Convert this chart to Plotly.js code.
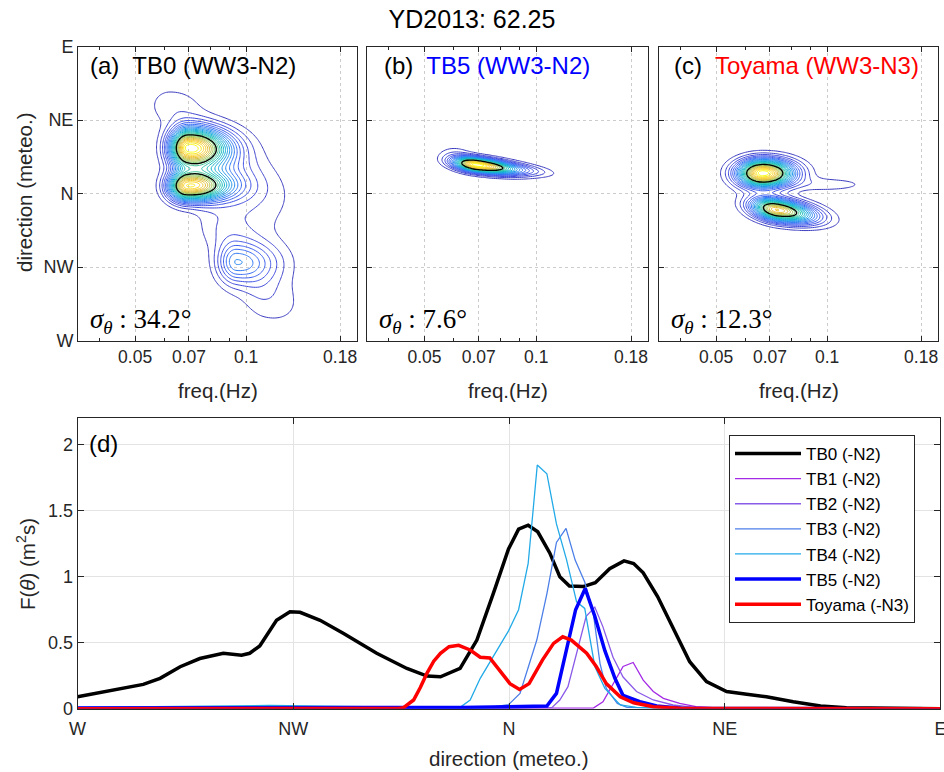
<!DOCTYPE html>
<html>
<head>
<meta charset="utf-8">
<script src="https://cdn.plot.ly/plotly-3.0.1.min.js"></script>
<style>
  html, body { margin: 0; padding: 0; background: #fff; }
  #chart { width: 944px; height: 772px; }
</style>
</head>
<body>
<div id="chart"></div>
<script>
// ---------- directional spectra F(theta), direction in degrees (W = 270 ... E = 450) ----------
const tb0Dir = [270, 276.8, 283.7, 287.2, 291.4, 295.5, 300.4, 304.2, 305.9, 308, 311.5, 314.3, 316.4, 320.6, 325.5, 332.4, 338.7, 342.9, 345.7, 349.8, 353.3, 356.7, 359.9, 362, 364, 366, 368.5, 370.6, 372.6, 375.5, 378, 381, 384, 386, 388, 391, 394.3, 397.7, 401.2, 405.4, 409.6, 413.7, 419.3, 425, 430.4, 440, 450];
const tb0Val = [0.09, 0.136, 0.184, 0.23, 0.318, 0.38, 0.42, 0.405, 0.42, 0.475, 0.67, 0.735, 0.73, 0.67, 0.57, 0.42, 0.305, 0.247, 0.242, 0.305, 0.52, 0.87, 1.21, 1.36, 1.39, 1.34, 1.18, 1.0, 0.93, 0.925, 0.955, 1.06, 1.12, 1.10, 1.03, 0.85, 0.6, 0.356, 0.205, 0.13, 0.109, 0.091, 0.053, 0.02, 0.008, 0.002, 0];

const tb1Dir = [270, 370, 377.6, 379.6, 381.7, 383.8, 385.9, 388, 390.1, 392.2, 395.6, 399, 405, 450];
const tb1Val = [0, 0, 0.005, 0.053, 0.19, 0.32, 0.35, 0.217, 0.13, 0.078, 0.04, 0.015, 0.003, 0];

const tb2Dir = [270, 360, 369, 370.6, 372.3, 374.4, 376.1, 377.9, 379.6, 381.7, 383.8, 386.6, 390.1, 394.2, 400, 450];
const tb2Val = [0, 0.003, 0.01, 0.066, 0.167, 0.47, 0.70, 0.77, 0.62, 0.39, 0.24, 0.13, 0.066, 0.028, 0.005, 0];

const tb3Dir = [270, 300, 330, 355, 359.9, 362.3, 365.8, 367.9, 369.9, 371.9, 373.8, 375.8, 377.6, 379, 380.3, 382.6, 384.6, 400, 450];
const tb3Val = [0.01, 0.015, 0.01, 0.005, 0.03, 0.116, 0.52, 0.87, 1.26, 1.366, 1.126, 0.96, 0.72, 0.34, 0.154, 0.04, 0.01, 0, 0];

const tb4Dir = [270, 290, 310, 330, 345, 349.8, 351.9, 354, 357.6, 359.9, 362, 364, 365.9, 367.9, 369.9, 372, 374.1, 375.8, 377.9, 380, 383.2, 386.6, 395, 450];
const tb4Val = [0.01, 0.02, 0.025, 0.015, 0.01, 0.01, 0.066, 0.23, 0.45, 0.59, 0.75, 1.10, 1.846, 1.78, 1.40, 1.13, 0.81, 0.76, 0.32, 0.154, 0.028, 0.01, 0, 0];

const tb5Dir = [270, 300, 330, 350, 360, 367.9, 369.9, 371.9, 373.9, 375.9, 377.9, 380, 382.1, 383.8, 387.3, 390.8, 396, 450];
const tb5Val = [0.005, 0.01, 0.01, 0.01, 0.012, 0.02, 0.116, 0.44, 0.75, 0.91, 0.70, 0.44, 0.23, 0.10, 0.053, 0.02, 0.003, 0];

const toyDir = [270, 300, 330, 337, 338, 340.1, 341.5, 342.9, 344.3, 345.7, 347.5, 349.5, 351.9, 354, 356, 358.1, 360.2, 362.2, 364.2, 367, 369.3, 371.2, 373, 376.2, 378.2, 380.3, 383.2, 386, 390.1, 395.7, 420, 450];
const toyVal = [0, 0, 0, 0.002, 0.008, 0.066, 0.16, 0.27, 0.36, 0.42, 0.47, 0.48, 0.445, 0.39, 0.385, 0.29, 0.19, 0.145, 0.19, 0.37, 0.495, 0.545, 0.52, 0.42, 0.32, 0.19, 0.09, 0.045, 0.015, 0.003, 0, 0];

const seriesNames = ['TB0 (-N2)', 'TB1 (-N2)', 'TB2 (-N2)', 'TB3 (-N2)', 'TB4 (-N2)', 'TB5 (-N2)', 'Toyama (-N3)'];

// ---------- 2-D spectra E(f, theta) built from spectral peaks:
// centre freq, centre dir, relative energy, log-f width below / above the peak, dir width, dir drift per decade of f
const tb0PeakFreq = [0.0695, 0.069, 0.094, 0.078, 0.062, 0.112, 0.086];
const tb0PeakDir  = [388, 364.5, 318, 376, 414, 298, 338];
const tb0PeakAmp  = [1.0, 0.95, 0.33, 0.20, 0.07, 0.08, 0.07];
const tb0PeakSfLo = [0.033, 0.033, 0.035, 0.050, 0.040, 0.050, 0.045];
const tb0PeakSfHi = [0.072, 0.072, 0.075, 0.120, 0.060, 0.070, 0.080];
const tb0PeakSd   = [8, 6, 9, 15, 8, 12, 9];
const tb0PeakTilt = [0, 0, 0, -80, 0, -60, 0];

const tb5PeakFreq = [0.069, 0.095, 0.060];
const tb5PeakDir  = [377.5, 374.5, 385];
const tb5PeakAmp  = [1.0, 0.07, 0.05];
const tb5PeakSfLo = [0.040, 0.050, 0.030];
const tb5PeakSfHi = [0.070, 0.050, 0.030];
const tb5PeakSd   = [2.8, 2.2, 3];
const tb5PeakTilt = [-28, -28, 0];

const toyPeakFreq = [0.067, 0.073, 0.100];
const toyPeakDir  = [372.4, 350, 365.5];
const toyPeakAmp  = [1.0, 0.85, 0.06];
const toyPeakSfLo = [0.045, 0.045, 0.060];
const toyPeakSfHi = [0.055, 0.068, 0.080];
const toyPeakSd   = [5.5, 4.5, 3];
const toyPeakTilt = [0, -35, 0];

// frequency / direction grid of the model spectra
const F_MIN = 0.035, F_MAX = 0.2, NF = 130;
const freqGrid = Array.from({length: NF}, (_, k) => F_MIN * Math.pow(F_MAX / F_MIN, k / (NF - 1)));
const dirGrid = Array.from({length: 241}, (_, k) => 270 + 0.75 * k);

function spectrum(pf, pd, pa, lo, hi, psd, pt) {
  return dirGrid.map(th => freqGrid.map(f => {
    const lf = Math.log10(f);
    let e = 0;
    for (let i = 0; i < pf.length; i++) {
      const dl = lf - Math.log10(pf[i]);
      const sf = dl < 0 ? lo[i] : hi[i];
      const dt = th - pd[i] - pt[i] * dl;
      e += pa[i] * Math.exp(-0.5 * (dl / sf) ** 2 - 0.5 * (dt / psd[i]) ** 2);
    }
    return e;
  }));
}

const parula = [[0, '#3d3dc0'], [0.1, '#3f4be0'], [0.2, '#3a68f4'], [0.3, '#2a8cf0'], [0.4, '#15aadc'],
                [0.5, '#13bdbc'], [0.6, '#4ac690'], [0.7, '#9ac556'], [0.8, '#dcbc3a'], [0.9, '#fcce2e'], [1, '#f9fb15']];

function contourPair(z, xa, ya) {
  const zmax = Math.max(...z.map(r => Math.max(...r)));
  const step = zmax / 26;
  const base = {type: 'contour', x: freqGrid, y: dirGrid, z: z, xaxis: xa, yaxis: ya,
                showscale: false, hoverinfo: 'skip', showlegend: false, autocontour: false};
  return [
    Object.assign({}, base, {contours: {coloring: 'lines', start: step, end: zmax * 0.999, size: step},
                             colorscale: parula, zmin: step, zmax: zmax, line: {width: 1}}),
    Object.assign({}, base, {contours: {coloring: 'none', start: zmax * 0.62, end: zmax * 0.62, size: zmax},
                             line: {color: '#000', width: 1.3}})
  ];
}

const traces = [];
traces.push(...contourPair(spectrum(tb0PeakFreq, tb0PeakDir, tb0PeakAmp, tb0PeakSfLo, tb0PeakSfHi, tb0PeakSd, tb0PeakTilt), 'x', 'y'));
traces.push(...contourPair(spectrum(tb5PeakFreq, tb5PeakDir, tb5PeakAmp, tb5PeakSfLo, tb5PeakSfHi, tb5PeakSd, tb5PeakTilt), 'x2', 'y2'));
traces.push(...contourPair(spectrum(toyPeakFreq, toyPeakDir, toyPeakAmp, toyPeakSfLo, toyPeakSfHi, toyPeakSd, toyPeakTilt), 'x3', 'y3'));

const lineDirs = [tb0Dir, tb1Dir, tb2Dir, tb3Dir, tb4Dir, tb5Dir, toyDir];
const lineVals = [tb0Val, tb1Val, tb2Val, tb3Val, tb4Val, tb5Val, toyVal];
const lineColors = ['#000000', '#a42be6', '#8a5ae8', '#4c7fe8', '#22aae8', '#0000ff', '#ff0000'];
const lineWidths = [3.5, 1.3, 1.3, 1.3, 1.3, 3.5, 3.5];
for (let i = 0; i < seriesNames.length; i++) {
  traces.push({type: 'scatter', mode: 'lines', name: seriesNames[i], x: lineDirs[i], y: lineVals[i],
               xaxis: 'x4', yaxis: 'y4', line: {color: lineColors[i], width: lineWidths[i]}, hoverinfo: 'skip'});
}

// ---------- axes ----------
const W = 944, H = 772;
const px = v => v / W, py = v => 1 - v / H;
const INK = '#262626';
const FONT = 'Liberation Sans, Arial, sans-serif';
const freqTicks = [0.05, 0.07, 0.1, 0.18];
const freqMinor = [0.04, 0.06, 0.08, 0.09, 0.2];
const dirTicks = [270, 315, 360, 405, 450];
const dirText = ['W', 'NW', 'N', 'NE', 'E'];

function freqAxis(l, r, anchor) {
  return {domain: [px(l), px(r)], anchor: anchor, type: 'log', range: [Math.log10(F_MIN), Math.log10(F_MAX)],
          tickmode: 'array', tickvals: freqTicks, ticktext: freqTicks.map(String),
          ticks: 'inside', ticklen: 5, tickcolor: INK, showline: true, linecolor: INK, linewidth: 1, mirror: 'ticks',
          showgrid: true, gridcolor: '#cccccc', griddash: 'dot', gridwidth: 1, zeroline: false,
          tickfont: {family: FONT, size: 17.5, color: INK}, ticklabeloverflow: 'allow',
          minor: {tickmode: 'array', tickvals: freqMinor, ticks: 'inside', ticklen: 3, tickcolor: INK, showgrid: false}};
}
function dirAxis(anchor, labels) {
  return {domain: [py(340.5), py(46.5)], anchor: anchor, range: [270, 450],
          tickmode: 'array', tickvals: dirTicks, ticktext: dirText, showticklabels: labels,
          ticks: 'inside', ticklen: 5, tickcolor: INK, showline: true, linecolor: INK, linewidth: 1, mirror: 'ticks',
          showgrid: true, gridcolor: '#cccccc', griddash: 'dot', gridwidth: 1, zeroline: false,
          tickfont: {family: FONT, size: 18, color: INK}, ticklabeloverflow: 'allow'};
}

const layout = {
  width: W, height: H, margin: {l: 0, r: 0, t: 0, b: 0},
  paper_bgcolor: '#fff', plot_bgcolor: '#fff',
  font: {family: FONT, color: INK},
  title: {text: 'YD2013: 62.25', x: px(472), y: py(19), xanchor: 'center', yanchor: 'middle',
          font: {family: FONT, size: 25, color: '#000'}},
  xaxis: freqAxis(78, 357, 'y'),
  xaxis2: freqAxis(367, 648, 'y2'),
  xaxis3: freqAxis(659, 938, 'y3'),
  yaxis: dirAxis('x', true),
  yaxis2: dirAxis('x2', false),
  yaxis3: dirAxis('x3', false),
  xaxis4: {domain: [px(77.6), px(940.4)], anchor: 'y4', range: [270, 450],
           tickmode: 'array', tickvals: dirTicks, ticktext: dirText,
           ticks: 'inside', ticklen: 6, tickcolor: INK, showline: true, linecolor: INK, linewidth: 1, mirror: 'ticks',
           showgrid: true, gridcolor: '#e3e3e3', gridwidth: 1, zeroline: false, ticklabelstandoff: 4,
           tickfont: {family: FONT, size: 18, color: INK}, ticklabeloverflow: 'allow'},
  yaxis4: {domain: [py(708.7), py(418.3)], anchor: 'x4', range: [0, 2.2],
           tickmode: 'array', tickvals: [0, 0.5, 1, 1.5, 2], ticktext: ['0', '0.5', '1', '1.5', '2'],
           ticks: 'inside', ticklen: 6, tickcolor: INK, showline: true, linecolor: INK, linewidth: 1, mirror: 'ticks',
           showgrid: true, gridcolor: '#e3e3e3', gridwidth: 1, zeroline: false,
           tickfont: {family: FONT, size: 18, color: INK}, ticklabeloverflow: 'allow'},
  showlegend: true,
  legend: {x: px(729), y: py(435), xanchor: 'left', yanchor: 'top', bgcolor: '#fff',
           bordercolor: INK, borderwidth: 1, font: {family: FONT, size: 17, color: '#000'},
           tracegroupgap: 0, itemwidth: 66},
  annotations: [
    {text: '(a)  TB0 (WW3-N2)', x: px(88), y: py(66), xanchor: 'left', yanchor: 'middle'},
    {text: '(b)  <span style="color:#0000ff">TB5 (WW3-N2)</span>', x: px(382), y: py(66), xanchor: 'left', yanchor: 'middle'},
    {text: '(c)  <span style="color:#ff0000">Toyama (WW3-N3)</span>', x: px(672), y: py(66), xanchor: 'left', yanchor: 'middle'},
    {text: '(d)', x: px(87), y: py(443), xanchor: 'left', yanchor: 'middle'}
  ].map(a => Object.assign({xref: 'paper', yref: 'paper', showarrow: false, font: {family: FONT, size: 24, color: '#000'}}, a))
   .concat([
    {text: '<i>σ</i><sub><i>θ</i></sub> : 34.2°', x: px(88), y: py(321)},
    {text: '<i>σ</i><sub><i>θ</i></sub> : 7.6°', x: px(377), y: py(321)},
    {text: '<i>σ</i><sub><i>θ</i></sub> : 12.3°', x: px(669), y: py(321)}
   ].map(a => Object.assign({xref: 'paper', yref: 'paper', showarrow: false, xanchor: 'left', yanchor: 'middle',
                             font: {family: 'Liberation Serif, DejaVu Serif, serif', size: 27, color: '#000'}}, a)))
   .concat([
    {text: 'freq.(Hz)', x: px(218), y: py(390)},
    {text: 'freq.(Hz)', x: px(508), y: py(390)},
    {text: 'freq.(Hz)', x: px(799), y: py(390)},
    {text: 'direction (meteo.)', x: px(509), y: py(758)},
    {text: 'direction (meteo.)', x: px(24), y: py(192), textangle: -90},
    {text: 'F(<i>θ</i>) (m<sup>2</sup>s)', x: px(26), y: py(564), textangle: -90}
   ].map(a => Object.assign({xref: 'paper', yref: 'paper', showarrow: false, xanchor: 'center', yanchor: 'middle',
                             font: {family: FONT, size: 20.5, color: INK}}, a)))
};

Plotly.newPlot('chart', traces, layout, {staticPlot: true});
</script>
</body>
</html>
